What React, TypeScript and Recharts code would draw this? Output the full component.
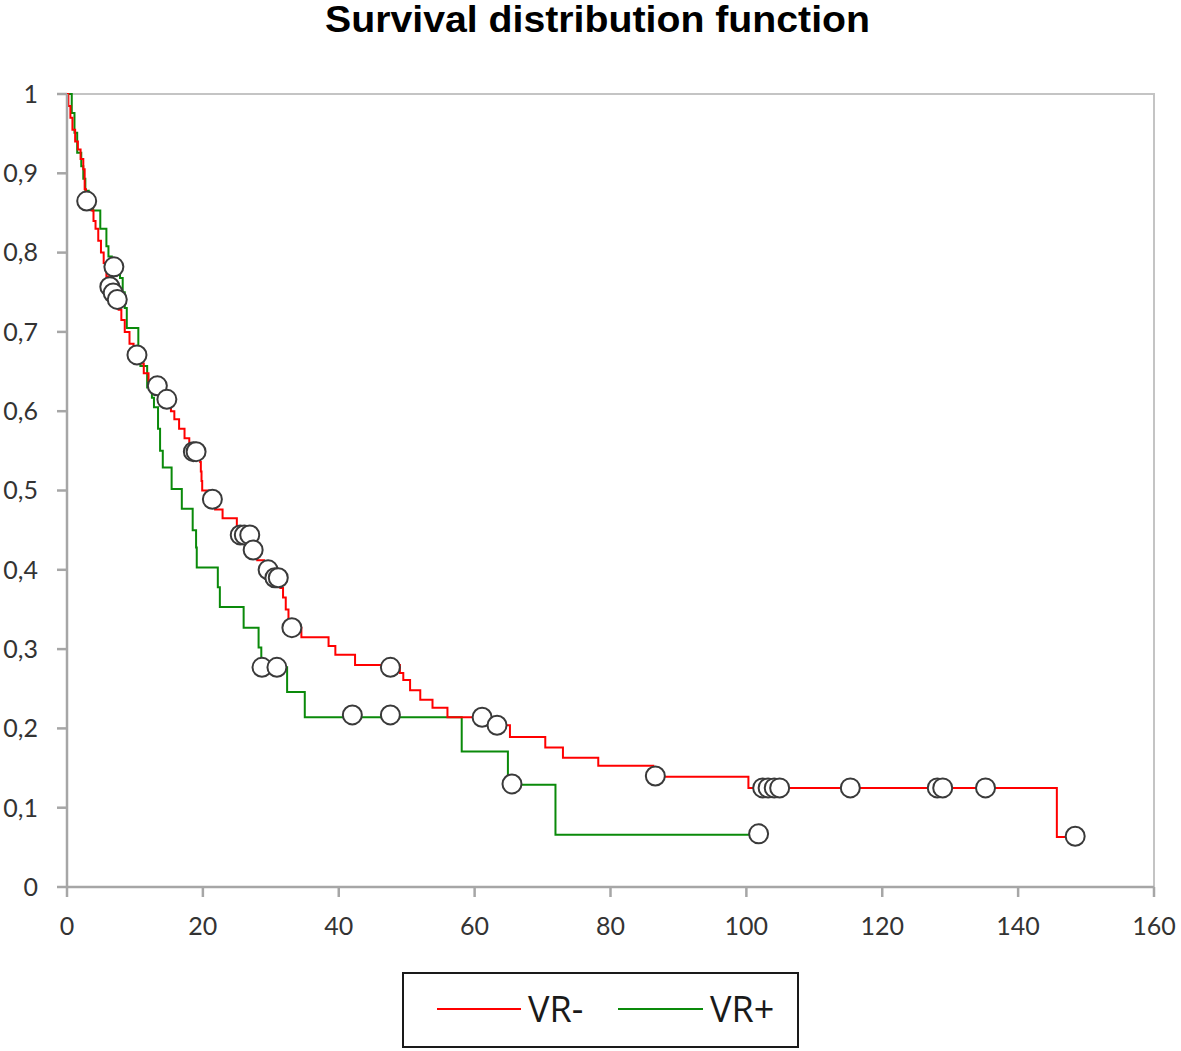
import React from 'react';
import { ComposedChart, Line, Scatter, XAxis, YAxis, ReferenceArea } from 'recharts';

// VR- step curve: time of each drop and survival after it
const redTimes = [0, 0.2, 0.5, 0.8, 1.2, 1.6, 2.0, 2.4, 2.6, 2.8, 3.6, 3.9, 4.2, 4.6, 5.0, 5.4, 5.8, 6.1, 6.6, 7.2, 7.6, 8.0, 8.5, 9.2, 9.8, 10.8, 11.3, 12.0, 13.0, 13.6, 14.2, 15.3, 15.8, 16.5, 17.3, 18.0, 19.6, 19.7, 19.8, 19.9, 20.9, 21.8, 22.9, 25.0, 27.2, 28.0, 29.0, 30.2, 31.4, 31.8, 32.2, 32.6, 33.0, 34.5, 38.5, 39.5, 42.4, 49.0, 49.5, 50.5, 52.0, 53.8, 56.0, 62.5, 65.2, 70.4, 73.0, 78.2, 86.3, 100.3, 145.7, 148.4];
const redSurv = [1, 0.985, 0.97, 0.955, 0.94, 0.93, 0.918, 0.905, 0.88, 0.865, 0.853, 0.84, 0.83, 0.815, 0.8, 0.787, 0.77, 0.757, 0.749, 0.741, 0.728, 0.715, 0.7, 0.685, 0.671, 0.66, 0.648, 0.638, 0.632, 0.625, 0.615, 0.6, 0.59, 0.578, 0.566, 0.549, 0.536, 0.524, 0.512, 0.5, 0.489, 0.476, 0.465, 0.444, 0.425, 0.412, 0.4, 0.39, 0.377, 0.365, 0.35, 0.338, 0.327, 0.315, 0.304, 0.293, 0.28, 0.27, 0.261, 0.248, 0.236, 0.226, 0.214, 0.204, 0.189, 0.176, 0.163, 0.153, 0.139, 0.125, 0.063, 0.063];

// VR+ step curve
const greenTimes = [0, 0.7, 1.1, 1.5, 2.1, 2.4, 2.7, 3.2, 3.8, 4.9, 5.8, 6.1, 6.6, 7.8, 8.2, 8.5, 8.8, 10.5, 10.8, 11.8, 12.5, 12.8, 13.4, 13.7, 14.1, 15.4, 16.9, 18.5, 19.0, 19.1, 22.2, 22.5, 26.0, 28.2, 28.6, 32.4, 35.0, 58.1, 64.9, 71.9, 101.8];
const greenSurv = [1, 0.976, 0.951, 0.926, 0.909, 0.893, 0.878, 0.864, 0.853, 0.83, 0.808, 0.795, 0.782, 0.768, 0.75, 0.73, 0.705, 0.68, 0.657, 0.63, 0.617, 0.605, 0.578, 0.55, 0.529, 0.502, 0.477, 0.45, 0.428, 0.403, 0.378, 0.353, 0.327, 0.302, 0.277, 0.246, 0.214, 0.171, 0.129, 0.066, 0.066];

// censored observations
const redCensorTimes = [2.9, 6.3, 6.8, 7.4, 10.3, 13.3, 14.7, 18.6, 19.0, 21.4, 25.5, 26.1, 26.9, 27.4, 29.6, 30.6, 31.1, 33.1, 47.6, 61.1, 63.3, 86.6, 102.4, 103.2, 104.1, 104.9, 115.3, 128.1, 128.9, 135.2, 148.4];
const redCensorSurv = [0.865, 0.757, 0.749, 0.741, 0.671, 0.632, 0.615, 0.549, 0.549, 0.489, 0.444, 0.444, 0.444, 0.425, 0.4, 0.39, 0.39, 0.327, 0.277, 0.214, 0.204, 0.14, 0.125, 0.125, 0.125, 0.125, 0.125, 0.125, 0.125, 0.125, 0.064];
const greenCensorTimes = [6.9, 28.7, 30.9, 42.0, 47.6, 65.5, 101.8];
const greenCensorSurv = [0.782, 0.277, 0.277, 0.217, 0.217, 0.13, 0.067];

const xTicks = [0, 20, 40, 60, 80, 100, 120, 140, 160];
const yTicks = [0, 0.1, 0.2, 0.3, 0.4, 0.5, 0.6, 0.7, 0.8, 0.9, 1];

const toRows = (ts: number[], ss: number[]) => ts.map((t, i) => ({ t, s: ss[i] }));

const redData = toRows(redTimes, redSurv);
const greenData = toRows(greenTimes, greenSurv);
const redCensor = toRows(redCensorTimes, redCensorSurv);
const greenCensor = toRows(greenCensorTimes, greenCensorSurv);

const axisColor = '#a6a6a6';
const tickStyle = { fontSize: 25, fill: '#333333', fontFamily: 'Lato' };

const fmtY = (v: number) => (v === 0 || v === 1 ? String(v) : v.toFixed(1).replace('.', ','));

const CensorDot = (props: any) => (
    <circle cx={props.cx} cy={props.cy} r={9.5} fill="#ffffff" stroke="#3a3a3a" strokeWidth={2} />
);

export default function App() {
    return (
        <div style={{ position: 'absolute', left: 0, top: 0, width: 1181, height: 1051, background: '#fff' }}>
            {/* title */}
            <svg width={1181} height={60} style={{ position: 'absolute', left: 0, top: 0 }}>
                <text x={325} y={32} fontFamily="Liberation Sans" fontWeight="bold" fontSize={36} fill="#000" textLength={545} lengthAdjust="spacingAndGlyphs">
                    Survival distribution function
                </text>
            </svg>

            <div style={{ position: 'absolute', left: 0, top: 0 }}>
                <ComposedChart width={1181} height={1051} margin={{ top: 94, right: 27, left: 7, bottom: 114 }}>
                    <ReferenceArea x1={0} x2={160} y1={0} y2={1} fill="none" stroke="#c4c4c4" strokeWidth={2} />
                    <XAxis
                        type="number"
                        dataKey="t"
                        domain={[0, 160]}
                        ticks={xTicks}
                        height={50}
                        stroke={axisColor}
                        strokeWidth={2.5}
                        tickSize={10}
                        tickMargin={20}
                        tick={tickStyle}
                        allowDuplicatedCategory={false}
                    />
                    <YAxis
                        type="number"
                        dataKey="s"
                        domain={[0, 1]}
                        ticks={yTicks}
                        width={60}
                        stroke={axisColor}
                        strokeWidth={2.5}
                        tickSize={10}
                        tickMargin={19}
                        tick={tickStyle}
                        tickFormatter={fmtY}
                    />
                    <Line data={greenData} dataKey="s" type="stepAfter" stroke="#0a8a0a" strokeWidth={2} dot={false} isAnimationActive={false} />
                    <Line data={redData} dataKey="s" type="stepAfter" stroke="#ff0000" strokeWidth={2} dot={false} isAnimationActive={false} />
                    <Scatter data={redCensor} dataKey="s" shape={CensorDot} isAnimationActive={false} />
                    <Scatter data={greenCensor} dataKey="s" shape={CensorDot} isAnimationActive={false} />
                </ComposedChart>
            </div>

            {/* legend */}
            <svg width={1181} height={1051} style={{ position: 'absolute', left: 0, top: 0, pointerEvents: 'none' }}>
                <rect x={403} y={973} width={395} height={74} fill="none" stroke="#1a1a1a" strokeWidth={2} />
                <line x1={437} x2={521} y1={1009} y2={1009} stroke="#ff0000" strokeWidth={2} />
                <text x={528} y={1022} fontFamily="Open Sans" fontSize={36} fill="#1a1a1a">VR-</text>
                <line x1={618} x2={703} y1={1009} y2={1009} stroke="#0a8a0a" strokeWidth={2} />
                <text x={710} y={1022} fontFamily="Open Sans" fontSize={36} fill="#1a1a1a">VR+</text>
            </svg>
        </div>
    );
}
